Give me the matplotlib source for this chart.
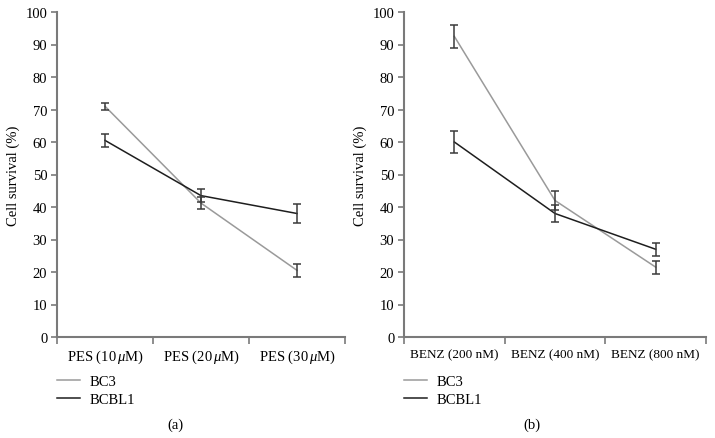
import matplotlib
matplotlib.use("Agg")
import matplotlib.pyplot as plt
from matplotlib.lines import Line2D

plt.rcParams['font.family'] = ['Liberation Serif', 'DejaVu Serif']
plt.rcParams['mathtext.fontset'] = 'custom'
plt.rcParams['mathtext.it'] = 'Liberation Serif:italic'
plt.rcParams['mathtext.rm'] = 'Liberation Serif'

cats_a = ["PES (10$\\,\\mu$M)", "PES (20$\\,\\mu$M)", "PES (30$\\,\\mu$M)"]
bc3_a = [71.0, 41.2, 20.5]
bc3_a_err = [1.0, 1.8, 2.0]
bcbl1_a = [60.5, 43.5, 38.0]
bcbl1_a_err = [2.0, 2.1, 2.8]

cats_b = ["BENZ (200 nM)", "BENZ (400 nM)", "BENZ (800 nM)"]
bc3_b = [92.5, 42.0, 21.5]
bc3_b_err = [3.5, 2.8, 2.0]
bcbl1_b = [60.0, 38.0, 27.0]
bcbl1_b_err = [3.5, 2.7, 2.0]

series_names = ["BC3", "BCBL1"]
yticks = list(range(0, 101, 10))

C_BC3 = "#9a9a9a"
C_BCBL1 = "#1e1e1e"
C_ERR = "#3a3a3a"
C_AX = "#7a7a7a"

fig = plt.figure(figsize=(7.15, 4.39), dpi=100)
H = 439.0
W = 715.0
bottom = 1 - 338 / H
height = (338 - 13) / H
ax_a = fig.add_axes([57 / W, bottom, (345 - 57) / W, height])
ax_b = fig.add_axes([404 / W, bottom, (706 - 404) / W, height])

def draw(ax, cats, s1, e1, s2, e2, panel, legx, panelx, xfs):
    x = list(range(len(cats)))
    ax.plot(x, s1, color=C_BC3, lw=1.1, zorder=2)
    ax.plot(x, s2, color=C_BCBL1, lw=1.1, zorder=2)
    ax.errorbar(x, s1, yerr=e1, fmt='none', ecolor=C_ERR, elinewidth=1.1, capsize=3.2, capthick=1.1, zorder=3)
    ax.errorbar(x, s2, yerr=e2, fmt='none', ecolor=C_ERR, elinewidth=1.1, capsize=3.2, capthick=1.1, zorder=3)
    ax.set_xlim(-0.5, len(cats) - 0.5)
    ax.set_ylim(0, 100)
    ax.set_yticks(yticks)
    ax.tick_params(axis='y', direction='out', length=4, width=1.2, color=C_AX, labelsize=10.5, pad=3)
    ax.set_xticks([i + 0.5 for i in range(-1, len(cats))])
    ax.set_xticklabels([])
    ax.set_xticks(x, minor=True)
    ax.set_xticklabels(cats, minor=True, fontsize=xfs)
    ax.tick_params(axis='x', which='major', direction='out', length=5, width=1.2, color=C_AX)
    ax.tick_params(axis='x', which='minor', length=0, pad=8)
    for s in ['top', 'right']:
        ax.spines[s].set_visible(False)
    for s in ['left', 'bottom']:
        ax.spines[s].set_color(C_AX)
        ax.spines[s].set_linewidth(1.5)
    ax.set_ylabel("Cell survival (%)", fontsize=10.5, labelpad=4)
    handles = [Line2D([], [], color=C_BC3, lw=1.1), Line2D([], [], color=C_BCBL1, lw=1.1)]
    fig.legend(handles, series_names, loc='upper left', bbox_to_anchor=(legx / W, 1 - 376 / H),
               frameon=False, fontsize=10.5, handlelength=1.6, handletextpad=0.65, labelspacing=0.3,
               borderaxespad=0, borderpad=0)
    fig.text(panelx / W, 1 - 425 / H, panel, ha='center', va='center', fontsize=10.5)

draw(ax_a, cats_a, bc3_a, bc3_a_err, bcbl1_a, bcbl1_a_err, "(a)", 57, 175, 10.5)
draw(ax_b, cats_b, bc3_b, bc3_b_err, bcbl1_b, bcbl1_b_err, "(b)", 404, 532, 9.5)

fig.savefig("out.png", dpi=100)
